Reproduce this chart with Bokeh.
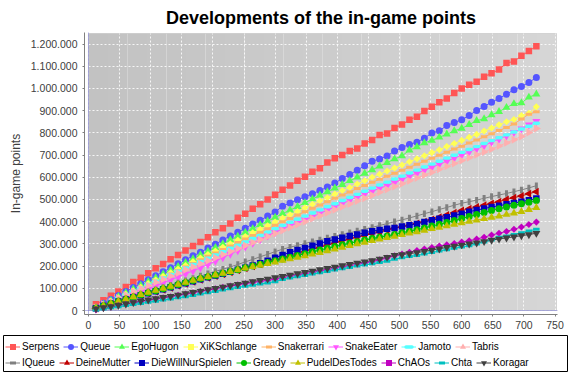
import math
from bokeh.plotting import figure
from bokeh.layouts import column
from bokeh.models import Range1d, FixedTicker, BoxAnnotation, Span, Legend, LegendItem
from bokeh.embed import file_html
from bokeh.resources import INLINE

# x positions of the samples
x = [12, 24, 36, 48, 60, 72, 84, 96, 108, 120,
     132, 144, 156, 168, 180, 192, 204, 216, 228, 240,
     252, 264, 276, 288, 300, 312, 324, 336, 348, 360,
     372, 384, 396, 408, 420, 432, 444, 456, 468, 480,
     492, 504, 516, 528, 540, 552, 564, 576, 588, 600,
     612, 624, 636, 648, 660, 672, 684, 696, 708, 720]

# in-game points, in thousands
serpens = [28, 46, 66, 86, 106, 128, 147, 168, 190, 209,
           231, 250, 270, 290, 309, 330, 352, 370, 392, 418,
           436, 458, 478, 500, 521, 544, 563, 584, 602, 625,
           640, 666, 686, 700, 718, 730, 752, 768, 790, 797,
           822, 837, 859, 873, 898, 918, 938, 955, 979, 1000,
           1017, 1030, 1053, 1068, 1085, 1115, 1121, 1147, 1168, 1190]
queue = [14, 33, 50, 68, 86, 104, 121, 139, 156, 174,
         192, 210, 228, 246, 262, 281, 298, 318, 336, 352,
         370, 390, 406, 425, 443, 470, 484, 499, 512, 526,
         540, 556, 574, 594, 612, 632, 652, 672, 682, 696,
         718, 734, 748, 758, 776, 799, 809, 833, 846, 859,
         878, 901, 919, 938, 955, 974, 994, 1009, 1027, 1049]
egohugon = [12, 28, 45, 62, 79, 96, 113, 130, 147, 164,
            181, 198, 216, 232, 250, 266, 283, 300, 318, 334,
            352, 368, 386, 402, 419, 436, 452, 468, 485, 502,
            518, 534, 551, 567, 584, 600, 617, 633, 650, 666,
            682, 696, 722, 737, 755, 766, 780, 794, 809, 820,
            837, 855, 863, 881, 895, 914, 931, 935, 960, 974]
xikschlange = [10, 25, 41, 57, 73, 89, 105, 121, 137, 154,
               170, 187, 203, 220, 236, 252, 268, 285, 300, 316,
               333, 350, 366, 382, 398, 416, 431, 446, 463, 478,
               494, 508, 524, 540, 554, 570, 584, 600, 614, 628,
               642, 655, 670, 683, 697, 711, 724, 738, 752, 766,
               780, 793, 808, 822, 836, 850, 860, 878, 888, 917]
snakerrari = [9, 23, 38, 54, 70, 85, 101, 117, 132, 148,
              164, 180, 196, 212, 228, 244, 259, 275, 290, 306,
              322, 338, 352, 368, 384, 400, 414, 430, 445, 460,
              475, 490, 505, 520, 534, 549, 563, 577, 591, 604,
              618, 631, 645, 658, 672, 686, 699, 713, 727, 740,
              754, 768, 782, 796, 810, 824, 840, 862, 884, 895]
snakeeater = [6, 18, 31, 44, 57, 70, 83, 97, 110, 124,
              137, 151, 165, 178, 192, 207, 222, 238, 254, 270,
              287, 303, 320, 336, 352, 368, 382, 394, 408, 422,
              437, 452, 467, 481, 496, 510, 524, 537, 550, 562,
              576, 590, 604, 618, 632, 645, 658, 672, 686, 700,
              714, 728, 742, 758, 772, 786, 802, 818, 836, 852]
jamoto = [12, 27, 42, 57, 72, 87, 102, 117, 132, 147,
          162, 177, 192, 207, 221, 236, 250, 265, 280, 294,
          309, 324, 338, 353, 368, 383, 397, 411, 425, 439,
          453, 467, 481, 495, 509, 523, 537, 551, 565, 578,
          592, 605, 619, 632, 646, 659, 672, 686, 699, 712,
          725, 738, 752, 765, 778, 791, 804, 817, 830, 843]
tabris = [14, 28, 42, 56, 70, 85, 99, 113, 127, 141,
          155, 169, 183, 197, 211, 224, 238, 252, 266, 279,
          293, 306, 320, 333, 347, 360, 374, 387, 400, 414,
          427, 440, 454, 467, 480, 493, 506, 519, 532, 545,
          558, 571, 584, 597, 610, 623, 636, 649, 662, 675,
          688, 701, 714, 727, 741, 755, 769, 784, 802, 820]
iqueue = [12, 22, 33, 44, 54, 64, 74, 84, 94, 104,
          114, 124, 134, 144, 155, 165, 176, 186, 196, 207,
          219, 230, 242, 253, 265, 276, 285, 293, 302, 310,
          318, 326, 334, 342, 350, 358, 366, 374, 383, 391,
          400, 408, 417, 426, 436, 445, 455, 464, 474, 483,
          490, 497, 505, 513, 520, 527, 535, 543, 552, 562]
deinemutter = [9, 19, 29, 39, 48, 58, 67, 76, 85, 94,
               103, 112, 121, 130, 139, 147, 155, 163, 172, 181,
               190, 199, 208, 217, 226, 235, 244, 254, 264, 274,
               284, 294, 303, 312, 321, 330, 338, 346, 353, 361,
               370, 376, 384, 392, 400, 410, 420, 430, 440, 450,
               458, 466, 474, 482, 490, 500, 508, 516, 526, 535]
diewillnurspielen = [10, 20, 30, 40, 50, 60, 69, 78, 87, 96,
                     105, 114, 123, 132, 141, 150, 158, 166, 175, 184,
                     193, 203, 213, 224, 237, 250, 262, 272, 282, 292,
                     302, 312, 320, 328, 335, 342, 350, 357, 363, 368,
                     372, 378, 384, 390, 398, 406, 413, 420, 428, 436,
                     445, 452, 459, 466, 472, 478, 484, 490, 497, 504]
gready = [10, 20, 30, 40, 50, 60, 70, 80, 89, 98,
          107, 117, 126, 135, 144, 152, 160, 168, 176, 184,
          192, 200, 208, 216, 224, 232, 240, 248, 256, 264,
          272, 280, 288, 296, 303, 310, 317, 324, 330, 336,
          342, 350, 357, 364, 372, 380, 388, 396, 405, 414,
          423, 432, 441, 450, 458, 466, 474, 481, 488, 495]
pudeldestodes = [11, 21, 31, 41, 51, 61, 71, 81, 90, 99,
                 108, 117, 126, 135, 144, 152, 160, 167, 175, 183,
                 190, 197, 204, 211, 218, 225, 232, 239, 246, 253,
                 260, 268, 276, 284, 292, 300, 307, 314, 321, 328,
                 334, 341, 348, 354, 361, 368, 374, 381, 388, 394,
                 401, 407, 413, 419, 425, 432, 438, 445, 454, 463]
chaos = [4, 10, 16, 22, 28, 34, 40, 46, 52, 57,
         62, 68, 74, 80, 86, 92, 98, 104, 110, 116,
         121, 126, 131, 136, 141, 148, 154, 160, 166, 172,
         178, 184, 190, 196, 202, 208, 214, 220, 228, 236,
         246, 254, 262, 270, 277, 284, 290, 296, 302, 308,
         314, 322, 330, 340, 348, 356, 366, 376, 387, 398]
chta = [2, 7, 12, 17, 22, 27, 32, 37, 42, 47,
        52, 57, 62, 68, 74, 80, 86, 92, 98, 104,
        109, 114, 119, 124, 130, 140, 146, 152, 158, 164,
        170, 176, 182, 188, 194, 200, 205, 210, 216, 222,
        231, 237, 243, 248, 254, 261, 268, 274, 280, 286,
        292, 300, 308, 318, 330, 336, 342, 350, 358, 366]
koragar = [8, 13, 18, 24, 30, 36, 42, 48, 54, 59,
           64, 70, 76, 82, 88, 94, 100, 106, 112, 118,
           124, 130, 136, 142, 148, 154, 160, 166, 172, 178,
           184, 190, 196, 202, 208, 214, 219, 225, 232, 240,
           248, 252, 256, 261, 266, 272, 278, 284, 290, 295,
           300, 305, 311, 317, 322, 327, 332, 337, 342, 348]

names = ["Serpens", "Queue", "EgoHugon", "XiKSchlange", "Snakerrari", "SnakeEater",
         "Jamoto", "Tabris", "IQueue", "DeineMutter", "DieWillNurSpielen", "Gready",
         "PudelDesTodes", "ChAOs", "Chta", "Koragar"]
series = [serpens, queue, egohugon, xikschlange, snakerrari, snakeeater, jamoto, tabris,
          iqueue, deinemutter, diewillnurspielen, gready, pudeldestodes, chaos, chta, koragar]
colors = ["#FF5555", "#5555FF", "#55FF55", "#FFFF55", "#FFB366", "#FF55FF", "#55FFFF", "#FFAFAF",
          "#808080", "#C00000", "#0000C0", "#00C000", "#C0C000", "#C000C0", "#00C0C0", "#404040"]

x_ticks = [0, 50, 100, 150, 200, 250, 300, 350, 400, 450, 500, 550, 600, 650, 700, 750]
y_ticks = [0, 100000, 200000, 300000, 400000, 500000, 600000, 700000, 800000,
           900000, 1000000, 1100000, 1200000]
y_tick_labels = ["0", "100.000", "200.000", "300.000", "400.000", "500.000", "600.000",
                 "700.000", "800.000", "900.000", "1.000.000", "1.100.000", "1.200.000"]

# JFreeChart default shape sequence
shape_cycle = [
    dict(marker="square", size=6.5),
    dict(marker="circle", size=7),
    dict(marker="triangle", size=8),
    dict(marker="square", size=5, angle=math.pi / 4),
    dict(marker="dash", size=6.5, line_width=3),
    dict(marker="inverted_triangle", size=8),
    dict(marker="dash", size=4, line_width=3.4, line_cap="round"),
    dict(marker="triangle", size=8, angle=-math.pi / 2),
    dict(marker="dash", size=6.5, line_width=3, angle=math.pi / 2),
    dict(marker="triangle", size=8, angle=math.pi / 2),
]

FONT = "Liberation Sans"

X0, X1 = -6.43, 754.0          # data range of the frame
PLOT_RIGHT = 752.4             # right edge of the grey plot area
Y0, Y1 = -18010, 1251830
PLOT_TOP = 1247330

# ---------------- main chart ----------------
p = figure(width=569, height=334, output_backend="svg", toolbar_location=None,
           x_range=Range1d(X0, X1), y_range=Range1d(Y0, Y1),
           min_border_left=84, min_border_right=12, min_border_top=32, min_border_bottom=20)
p.frame_align = False
p.outline_line_color = None
p.background_fill_color = "white"
p.border_fill_color = "white"

p.title.text = "Developments of the in-game points"
p.title.align = "center"
p.title.offset = -37
p.title.text_font = FONT
p.title.text_font_size = "18px"
p.title.text_font_style = "bold"
p.title.text_color = "black"
p.title.text_line_height = 1.0
p.title.standoff = 10

# plot area background: soft horizontal gradient (JFreeChart style)
n_bands = 24
c0, c1 = 0xC2, 0xD6
for k in range(n_bands):
    g = int(round(c0 + (c1 - c0) * k / (n_bands - 1)))
    col = "#%02X%02X%02X" % (g, g, g)
    band = BoxAnnotation(left=PLOT_RIGHT * k / n_bands, right=PLOT_RIGHT * (k + 1) / n_bands,
                         bottom=0, top=PLOT_TOP, fill_color=col, fill_alpha=1.0,
                         line_color=None, level="image")
    p.add_layout(band)
p.add_layout(BoxAnnotation(left=0, bottom=0, right=PLOT_RIGHT, top=PLOT_TOP,
                           fill_alpha=0, line_color="#A0A0A0", line_width=1, level="underlay"))

for ax in (p.xaxis[0], p.yaxis[0]):
    ax.axis_line_color = "#808080"
    ax.major_tick_line_color = "#808080"
    ax.minor_tick_line_color = None
    ax.major_tick_in = 0
    ax.major_tick_out = 2
    ax.major_label_text_font = FONT
    ax.major_label_text_font_size = "10.5px"
    ax.major_label_text_color = "#404040"
p.xaxis.ticker = FixedTicker(ticks=x_ticks)
p.yaxis.ticker = FixedTicker(ticks=y_ticks)
p.yaxis.major_label_overrides = {t: s for t, s in zip(y_ticks, y_tick_labels)}
p.xaxis.major_label_standoff = 4
p.yaxis.major_label_standoff = 5
p.yaxis.axis_label = "In-game points"
p.yaxis.axis_label_text_font = FONT
p.yaxis.axis_label_text_font_size = "12px"
p.yaxis.axis_label_text_font_style = "normal"
p.yaxis.axis_label_text_color = "#404040"
p.yaxis.axis_label_standoff = 5

p.grid.grid_line_color = "white"
p.grid.grid_line_dash = "2 2"
p.grid.grid_line_width = 1
p.grid.grid_line_alpha = 0.85

p.add_layout(Span(location=0, dimension="height", line_color="#7070D0",
                  line_dash="1 1", line_width=1, level="underlay"))
p.add_layout(Span(location=0, dimension="width", line_color="#7070D0",
                  line_dash="1 1", line_width=1, level="underlay"))

ys = [[v * 1000 for v in s] for s in series]

def marker_style(i):
    st = dict(shape_cycle[i % len(shape_cycle)])
    if st["marker"] == "dash":
        st["line_color"] = colors[i]
    else:
        st["fill_color"] = colors[i]
        st["line_color"] = None
    return st

for i in range(len(names)):
    p.line(x, ys[i], line_color=colors[i], line_width=1)
for i in range(len(names)):
    p.scatter(x, ys[i], **marker_style(i))

# ---------------- legend strip ----------------
q = figure(width=569, height=38, output_backend="svg", toolbar_location=None,
           x_axis_type=None, y_axis_type=None,
           x_range=Range1d(0, 1), y_range=Range1d(0, 1),
           min_border_left=3, min_border_right=2, min_border_top=1, min_border_bottom=1)
q.frame_align = False
q.outline_line_color = "black"
q.outline_line_width = 1
q.background_fill_color = "white"
q.border_fill_color = "white"

# legend-only glyph renderers: placed outside the strip's visible range
legend_items = []
for i in range(len(names)):
    lr = q.line([-5, -4], [-5, -4], line_color=colors[i], line_width=1)
    mr = q.scatter([-5], [-5], **marker_style(i))
    legend_items.append(LegendItem(label=names[i], renderers=[lr, mr]))

def make_legend(items, loc):
    return Legend(items=items, location=loc, orientation="horizontal",
                  glyph_width=15, glyph_height=15, label_height=15, label_width=0,
                  label_standoff=2, spacing=4, padding=0, margin=0,
                  border_line_color=None, background_fill_alpha=0,
                  label_text_font=FONT, label_text_font_size="10px",
                  label_text_color="black")

q.add_layout(make_legend(legend_items[:8], (2, 17)))
q.add_layout(make_legend(legend_items[8:], (2, 1)))

open("out.html", "w").write(file_html(column(p, q, spacing=0), INLINE))
